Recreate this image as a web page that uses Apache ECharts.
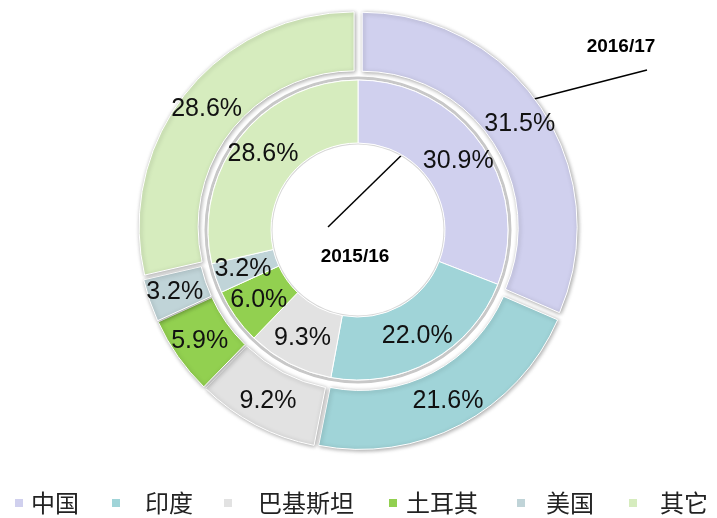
<!DOCTYPE html>
<html>
<head>
<meta charset="utf-8">
<script src="https://cdn.jsdelivr.net/npm/echarts@6/dist/echarts.min.js"></script>
<style>
  html, body { margin: 0; padding: 0; background: #fff; }
  #main { width: 717px; height: 518px; }
</style>
</head>
<body>
<div id="main"></div>
<script>
  var countries = ['中国', '印度', '巴基斯坦', '土耳其', '美国', '其它'];
  var colors = ['#d0d0ee', '#a0d4d8', '#e2e2e2', '#92d050', '#c0d4d8', '#d6ecbe'];
  var share1516 = [30.9, 22.0, 9.3, 6.0, 3.2, 28.6];
  var share1617 = [31.5, 21.6, 9.2, 5.9, 3.2, 28.6];
  // legend square x and text x
  var legendLeft = [13, 110, 222, 387, 515, 627];
  var legendText = [33, 147, 260, 408, 548, 662];

  var dom = document.getElementById('main');
  var myChart = echarts.init(dom);
  var font = '"Liberation Sans", Arial, sans-serif';

  function makeData(vals, selected) {
    return vals.map(function (v, i) {
      return {
        name: countries[i],
        value: v,
        selected: selected,
        itemStyle: { color: colors[i] },
        select: { itemStyle: { color: colors[i] } }
      };
    });
  }

  var pctLabel = {
    show: true,
    position: 'inside',
    formatter: function (p) { return p.value.toFixed(1) + '%'; },
    fontFamily: font,
    fontSize: 25,
    color: '#111'
  };

  var legends = countries.map(function (c, i) {
    return {
      data: [c],
      left: legendLeft[i],
      top: 491,
      padding: 0,
      itemWidth: 10,
      itemHeight: 10,
      itemGap: 0,
      icon: 'rect',
      selectedMode: false,
      textStyle: {
        fontFamily: '"Noto Sans CJK SC"',
        fontSize: 24,
        color: '#222',
        padding: [0, 0, 0, legendText[i] - legendLeft[i] - 18]
      }
    };
  });

  var option = {
    animation: false,
    legend: legends,
    graphic: [
      {
        type: 'text', x: 355, y: 257,
        style: { text: '2015/16', font: 'bold 19px ' + font, fill: '#000',
                 align: 'center', verticalAlign: 'middle' }
      },
      {
        type: 'text', x: 621, y: 47,
        style: { text: '2016/17', font: 'bold 19px ' + font, fill: '#000',
                 align: 'center', verticalAlign: 'middle' }
      },
      {
        type: 'line',
        shape: { x1: 328, y1: 227, x2: 412, y2: 145 },
        style: { stroke: '#000', lineWidth: 1.5 }
      },
      {
        type: 'line',
        shape: { x1: 507, y1: 106, x2: 647, y2: 70 },
        style: { stroke: '#000', lineWidth: 1.5 }
      }
    ],
    series: [
      {
        name: '2016/17',
        type: 'pie',
        center: [358, 230],
        radius: [156, 215],
        startAngle: 90,
        clockwise: true,
        selectedMode: 'multiple',
        selectedOffset: 5,
        z: 2,
        itemStyle: {
          borderColor: '#fff',
          borderWidth: 1,
          shadowBlur: 4,
          shadowColor: 'rgba(0,0,0,0.35)',
          shadowOffsetX: 1,
          shadowOffsetY: 1
        },
        emphasis: { disabled: true },
        label: pctLabel,
        labelLine: { show: false },
        data: makeData(share1617, true)
      },
      {
        name: 'ring',
        type: 'pie',
        center: [358, 230],
        radius: [150.5, 153.5],
        silent: true,
        z: 1,
        label: { show: false },
        labelLine: { show: false },
        itemStyle: { color: '#c8c8c8' },
        data: [{ name: 'ring', value: 1 }]
      },
      {
        name: '2015/16',
        type: 'pie',
        center: [358, 230],
        radius: [87, 150],
        startAngle: 90,
        clockwise: true,
        z: 3,
        itemStyle: {
          borderColor: '#fff',
          borderWidth: 1
        },
        emphasis: { disabled: true },
        label: pctLabel,
        labelLine: { show: false },
        data: makeData(share1516, false)
      },
      {
        name: 'hole',
        type: 'pie',
        center: [358, 230],
        radius: [85.5, 87],
        silent: true,
        z: 1,
        label: { show: false },
        labelLine: { show: false },
        itemStyle: { color: '#d8d8d8' },
        data: [{ name: 'hole', value: 1 }]
      }
    ]
  };

  myChart.setOption(option);
</script>
</body>
</html>
